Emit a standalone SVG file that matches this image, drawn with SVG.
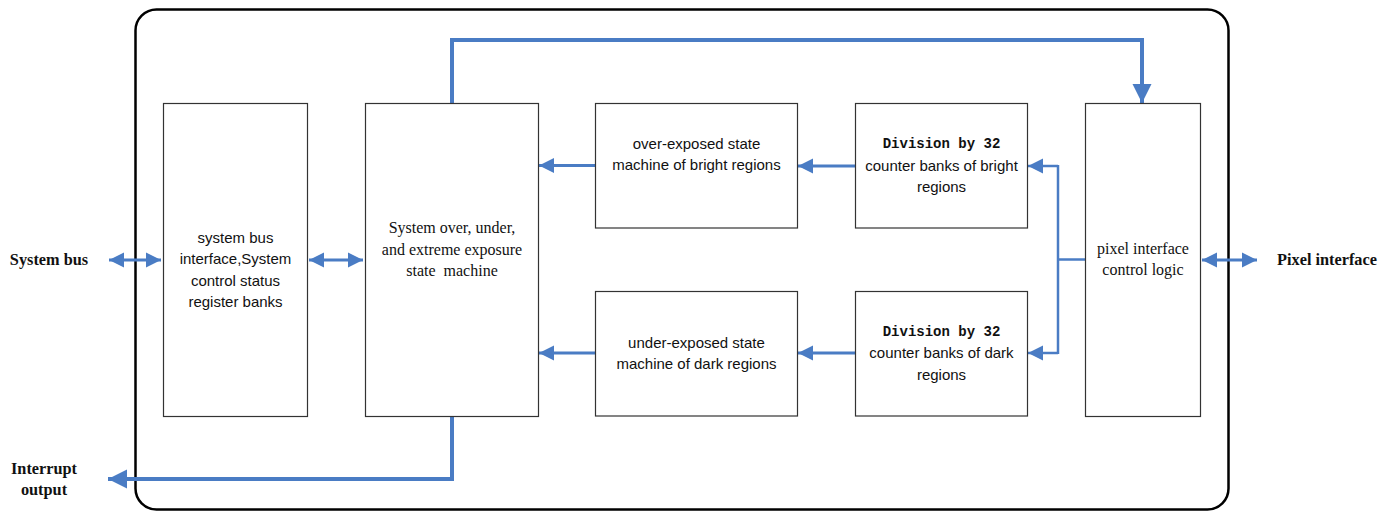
<svg xmlns="http://www.w3.org/2000/svg" width="1395" height="512" viewBox="0 0 1395 512">
<style>
.box{fill:#fff;stroke:#333;stroke-width:1.2}
.sans{font-family:"Liberation Sans",Arial,sans-serif;font-size:15px;fill:#111;text-anchor:middle}
.serif{font-family:"Liberation Serif","Times New Roman",serif;font-size:16px;fill:#111;text-anchor:middle}
.lbl{font-family:"Liberation Serif","Times New Roman",serif;font-size:16.3px;font-weight:bold;fill:#111;text-anchor:middle}
.mono{font-family:"Liberation Mono","Courier New",monospace;font-size:14px;font-weight:bold;fill:#111;text-anchor:middle}
.ln{fill:none;stroke:#4a7cc4;stroke-width:3}
.thick{fill:none;stroke:#4a7cc4;stroke-width:4}
.ln2{fill:none;stroke:#4a7cc4;stroke-width:2.5}
</style>
<defs>
<marker id="ah" markerUnits="userSpaceOnUse" markerWidth="16" markerHeight="16" refX="15" refY="8" orient="auto-start-reverse" viewBox="0 0 16 16">
<path d="M0,0.5 L15,8 L0,15.5 Z" fill="#4a7cc4"/>
</marker>
<marker id="ahb" markerUnits="userSpaceOnUse" markerWidth="20" markerHeight="20" refX="19" refY="10" orient="auto" viewBox="0 0 20 20">
<path d="M0,0.5 L19,10 L0,19.5 Z" fill="#4a7cc4"/>
</marker>
</defs>
<rect x="0" y="0" width="1395" height="512" fill="#fff"/>
<rect id="frame" x="135.5" y="9.5" width="1093" height="500" rx="21" ry="21" fill="none" stroke="#000" stroke-width="2.5"/>

<g id="connectors">
<line class="ln" x1="109" y1="260" x2="161" y2="260" marker-start="url(#ah)" marker-end="url(#ah)"/>
<line class="ln" x1="309" y1="260" x2="363" y2="260" marker-start="url(#ah)" marker-end="url(#ah)"/>
<line class="ln" x1="595" y1="165.5" x2="539" y2="165.5" marker-end="url(#ah)"/>
<line class="ln" x1="855" y1="166" x2="798" y2="166" marker-end="url(#ah)"/>
<line class="ln" x1="595" y1="353" x2="539" y2="353" marker-end="url(#ah)"/>
<line class="ln" x1="855" y1="353" x2="798" y2="353" marker-end="url(#ah)"/>
<line class="ln2" x1="1058" y1="165" x2="1058" y2="354"/>
<line class="ln2" x1="1058" y1="166" x2="1028" y2="166" marker-end="url(#ah)"/>
<line class="ln2" x1="1058" y1="353" x2="1028" y2="353" marker-end="url(#ah)"/>
<line class="ln2" x1="1057" y1="259.5" x2="1085" y2="259.5"/>
<line class="ln" x1="1202" y1="260" x2="1257" y2="260" marker-start="url(#ah)" marker-end="url(#ah)"/>
<polyline class="thick" points="452,103 452,40 1142,40 1142,103" marker-end="url(#ahb)"/>
<polyline class="thick" points="452,416 452,479 108,479" marker-end="url(#ahb)"/>
</g>

<g id="bus-interface">
<rect class="box" x="163.5" y="103.5" width="144" height="313"/>
<text class="sans" x="235.5" y="243">system bus</text>
<text class="sans" x="235.5" y="264">interface,System</text>
<text class="sans" x="235.5" y="286">control status</text>
<text class="sans" x="235.5" y="307">register banks</text>
</g>

<g id="state-machine">
<rect class="box" x="365.5" y="103.5" width="173" height="313"/>
<text class="serif" x="452" y="233">System over, under,</text>
<text class="serif" x="452" y="255">and extreme exposure</text>
<text class="serif" x="452" y="276" xml:space="preserve">state  machine</text>
</g>

<g id="over-exposed">
<rect class="box" x="595.5" y="103.5" width="202" height="124.5"/>
<text class="sans" x="696.5" y="149">over-exposed state</text>
<text class="sans" x="696.5" y="170">machine of bright regions</text>
</g>

<g id="under-exposed">
<rect class="box" x="595.5" y="291.5" width="202" height="124.5"/>
<text class="sans" x="696.5" y="348">under-exposed state</text>
<text class="sans" x="696.5" y="369">machine of dark regions</text>
</g>

<g id="div-bright">
<rect class="box" x="855.5" y="103.5" width="172" height="124.5"/>
<text class="mono" x="941.5" y="148">Division by 32</text>
<text class="sans" x="941.5" y="171">counter banks of bright</text>
<text class="sans" x="941.5" y="192">regions</text>
</g>

<g id="div-dark">
<rect class="box" x="855.5" y="291.5" width="172" height="124.5"/>
<text class="mono" x="941.5" y="336">Division by 32</text>
<text class="sans" x="941.5" y="358">counter banks of dark</text>
<text class="sans" x="941.5" y="380">regions</text>
</g>

<g id="pixel-logic">
<rect class="box" x="1085.5" y="103.5" width="115" height="313"/>
<text class="serif" x="1143" y="254">pixel interface</text>
<text class="serif" x="1143" y="275">control logic</text>
</g>

<g id="labels">
<text class="lbl" x="49" y="265">System bus</text>
<text class="lbl" x="44" y="474">Interrupt</text>
<text class="lbl" x="44" y="495">output</text>
<text class="lbl" x="1327" y="265">Pixel interface</text>
</g>
</svg>
